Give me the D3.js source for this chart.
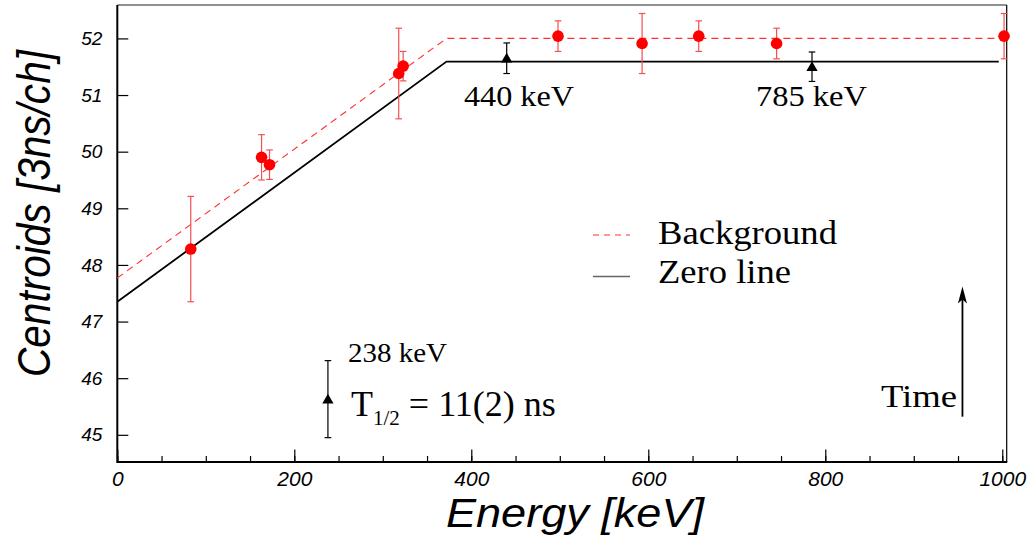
<!DOCTYPE html>
<html>
<head>
<meta charset="utf-8">
<script src="https://cdn.jsdelivr.net/npm/d3@7"></script>
<style>
  body { margin: 0; background: #fff; }
  .tick text { font-family: "Liberation Sans", Arial, sans-serif; font-style: italic; }
  .ann { font-family: "Liberation Serif", "Times New Roman", serif; fill: #000; }
</style>
</head>
<body>
<div id="chart"></div>
<script>
// background peaks (red points)
const bgEnergy   = [83, 163, 172, 318, 323, 498, 593, 657, 745, 1002];
const bgCentroid = [48.28, 49.90, 49.77, 51.38, 51.51, 52.04, 51.91, 52.04, 51.91, 52.04];
const bgError    = [0.93, 0.40, 0.26, 0.80, 0.26, 0.27, 0.53, 0.27, 0.27, 0.40];

// delayed transitions (black triangles)
const peakEnergy   = [238, 440, 785];
const peakCentroid = [45.63, 51.65, 51.50];
const peakError    = [0.68, 0.27, 0.26];
const peakLabels   = ["238 keV", "440 keV", "785 keV"];

// fitted lines
const bgLineEnergy     = [0, 372, 1001];
const bgLineCentroid   = [47.77, 52.0, 52.0];
const zeroLineEnergy   = [0, 372, 996];
const zeroLineCentroid = [47.35, 51.59, 51.59];

// ticks
const xMajorTicks = [0, 200, 400, 600, 800, 1000];
const xMinorTicks = d3.range(0, 1001, 50);
const yTicks = [45, 46, 47, 48, 49, 50, 51, 52];

var W = 1033, H = 536;
var plot = {left: 117.3, right: 1006.7, top: 5, bottom: 462};

var svg = d3.select("#chart")
  .append("svg")
  .attr("width", W)
  .attr("height", H);

svg.append("rect").attr("width", W).attr("height", H).attr("fill", "#fff");

// scales
const x = d3.scaleLinear().domain([0, 1005]).range([plot.left, plot.right]);
const y = d3.scaleLinear().domain([44.52, 52.59]).range([plot.bottom, plot.top]);

// X axis, minor + major ticks pointing inside
svg.append("g")
  .attr("transform", `translate(0, ${plot.bottom})`)
  .call(d3.axisBottom(x).tickValues(xMinorTicks).tickSize(-6).tickFormat(""))
  .call(g => g.select(".domain").remove())
  .call(g => g.selectAll("text").remove())
  .call(g => g.selectAll("line").attr("stroke", "#000").attr("stroke-width", 1.2));

svg.append("g")
  .attr("transform", `translate(0, ${plot.bottom})`)
  .call(d3.axisBottom(x).tickValues(xMajorTicks).tickSize(-12.5).tickPadding(9.5).tickFormat(d3.format("d")))
  .call(g => g.select(".domain").remove())
  .call(g => g.selectAll("line").attr("stroke", "#000").attr("stroke-width", 1.2))
  .call(g => g.selectAll("text").attr("font-size", 21).attr("fill", "#000"));

// Y axis
svg.append("g")
  .attr("transform", `translate(${plot.left}, 0)`)
  .call(d3.axisLeft(y).tickValues(yTicks).tickSize(-11).tickPadding(15))
  .call(g => g.select(".domain").remove())
  .call(g => g.selectAll("line").attr("stroke", "#000").attr("stroke-width", 1.2))
  .call(g => g.selectAll("text").attr("font-size", 19).attr("fill", "#000"));

// frame
svg.append("line").attr("x1", plot.left).attr("x2", plot.right).attr("y1", plot.top).attr("y2", plot.top)
  .attr("stroke", "#222").attr("stroke-width", 1);
svg.append("line").attr("x1", plot.right).attr("x2", plot.right).attr("y1", plot.top).attr("y2", plot.bottom)
  .attr("stroke", "#000").attr("stroke-width", 1.2);
svg.append("line").attr("x1", plot.left).attr("x2", plot.left).attr("y1", plot.top).attr("y2", plot.bottom + 1)
  .attr("stroke", "#000").attr("stroke-width", 2);
svg.append("line").attr("x1", plot.left).attr("x2", plot.right + 0.5).attr("y1", plot.bottom).attr("y2", plot.bottom)
  .attr("stroke", "#000").attr("stroke-width", 2);

// lines
var line = d3.line().x(d => x(d[0])).y(d => y(d[1]));

svg.append("path")
  .datum(bgLineEnergy.map((e, i) => [e, bgLineCentroid[i]]))
  .attr("d", line)
  .attr("fill", "none")
  .attr("stroke", "#ff3030")
  .attr("stroke-width", 1.1)
  .attr("stroke-dasharray", "7,5");

svg.append("path")
  .datum(zeroLineEnergy.map((e, i) => [e, zeroLineCentroid[i]]))
  .attr("d", line)
  .attr("fill", "none")
  .attr("stroke", "#000")
  .attr("stroke-width", 1.8);

// red points with error bars
var bgData = bgEnergy.map((e, i) => ({e: e, c: bgCentroid[i], err: bgError[i]}));
var capW = 3.3;

var bgErr = svg.append("g").attr("stroke", "#f35050").attr("stroke-width", 1.2);
bgData.forEach(function(d) {
  bgErr.append("line").attr("x1", x(d.e)).attr("x2", x(d.e)).attr("y1", y(d.c + d.err)).attr("y2", y(d.c - d.err));
  bgErr.append("line").attr("x1", x(d.e) - capW).attr("x2", x(d.e) + capW).attr("y1", y(d.c + d.err)).attr("y2", y(d.c + d.err));
  bgErr.append("line").attr("x1", x(d.e) - capW).attr("x2", x(d.e) + capW).attr("y1", y(d.c - d.err)).attr("y2", y(d.c - d.err));
});

svg.selectAll("circle.bg")
  .data(bgData)
  .join("circle")
  .attr("class", "bg")
  .attr("cx", d => x(d.e))
  .attr("cy", d => y(d.c))
  .attr("r", 5.8)
  .attr("fill", "#ff0000");

// triangles with error bars
var peakData = peakEnergy.map((e, i) => ({e: e, c: peakCentroid[i], err: peakError[i], label: peakLabels[i]}));

var pkErr = svg.append("g").attr("stroke", "#000").attr("stroke-width", 1.2);
peakData.forEach(function(d) {
  pkErr.append("line").attr("x1", x(d.e)).attr("x2", x(d.e)).attr("y1", y(d.c + d.err)).attr("y2", y(d.c - d.err));
  pkErr.append("line").attr("x1", x(d.e) - capW).attr("x2", x(d.e) + capW).attr("y1", y(d.c + d.err)).attr("y2", y(d.c + d.err));
  pkErr.append("line").attr("x1", x(d.e) - capW).attr("x2", x(d.e) + capW).attr("y1", y(d.c - d.err)).attr("y2", y(d.c - d.err));
});

svg.selectAll("path.peak")
  .data(peakData)
  .join("path")
  .attr("class", "peak")
  .attr("d", d3.symbol().type(d3.symbolTriangle).size(55))
  .attr("transform", d => `translate(${x(d.e)}, ${y(d.c) + 1})`)
  .attr("fill", "#000");

// peak labels
svg.append("text").attr("class", "ann")
  .attr("x", 348).attr("y", 362)
  .attr("font-size", 28).attr("textLength", 99).attr("lengthAdjust", "spacingAndGlyphs")
  .text(peakLabels[0]);
svg.append("text").attr("class", "ann")
  .attr("x", 464).attr("y", 106)
  .attr("font-size", 30).attr("textLength", 110).attr("lengthAdjust", "spacingAndGlyphs")
  .text(peakLabels[1]);
svg.append("text").attr("class", "ann")
  .attr("x", 756).attr("y", 106)
  .attr("font-size", 30).attr("textLength", 111).attr("lengthAdjust", "spacingAndGlyphs")
  .text(peakLabels[2]);

// half-life
var thalf = svg.append("text").attr("class", "ann")
  .attr("x", 351).attr("y", 416)
  .attr("font-size", 36);
thalf.append("tspan").text("T");
thalf.append("tspan").attr("font-size", 21).attr("dy", 9).text("1/2");
thalf.append("tspan").attr("dy", -9).text(" = 11(2) ns");

// legend
svg.append("line").attr("x1", 593).attr("x2", 630).attr("y1", 235).attr("y2", 235)
  .attr("stroke", "#ff3030").attr("stroke-width", 1.1).attr("stroke-dasharray", "6,5");
svg.append("line").attr("x1", 593).attr("x2", 630).attr("y1", 276.5).attr("y2", 276.5)
  .attr("stroke", "#666").attr("stroke-width", 1.5);
svg.append("text").attr("class", "ann")
  .attr("x", 658).attr("y", 244)
  .attr("font-size", 34).attr("textLength", 179).attr("lengthAdjust", "spacingAndGlyphs")
  .text("Background");
svg.append("text").attr("class", "ann")
  .attr("x", 658).attr("y", 283)
  .attr("font-size", 34).attr("textLength", 133).attr("lengthAdjust", "spacingAndGlyphs")
  .text("Zero line");

// time arrow
var ax = x(955), aTop = y(47.62), aBot = y(45.32);
svg.append("line")
  .attr("x1", ax).attr("x2", ax)
  .attr("y1", aBot).attr("y2", aTop + 10)
  .attr("stroke", "#000").attr("stroke-width", 1.8);
svg.append("path")
  .attr("d", `M${ax},${aTop} L${ax + 4.5},${aTop + 17} L${ax},${aTop + 13} L${ax - 4.5},${aTop + 17} Z`)
  .attr("fill", "#000");

svg.append("text").attr("class", "ann")
  .attr("x", 957).attr("y", 407)
  .attr("text-anchor", "end")
  .attr("font-size", 32).attr("textLength", 76).attr("lengthAdjust", "spacingAndGlyphs")
  .text("Time");

// axis titles
svg.append("text")
  .attr("transform", "translate(50, 213.5) rotate(-90)")
  .attr("text-anchor", "middle")
  .style("font-family", "'Liberation Sans', Arial, sans-serif")
  .style("font-style", "italic")
  .attr("font-size", 46).attr("textLength", 327).attr("lengthAdjust", "spacingAndGlyphs")
  .text("Centroids [3ns/ch]");

svg.append("text")
  .attr("x", 575).attr("y", 527)
  .attr("text-anchor", "middle")
  .style("font-family", "'Liberation Sans', Arial, sans-serif")
  .style("font-style", "italic")
  .attr("font-size", 40).attr("textLength", 258).attr("lengthAdjust", "spacingAndGlyphs")
  .text("Energy [keV]");
</script>
</body>
</html>
